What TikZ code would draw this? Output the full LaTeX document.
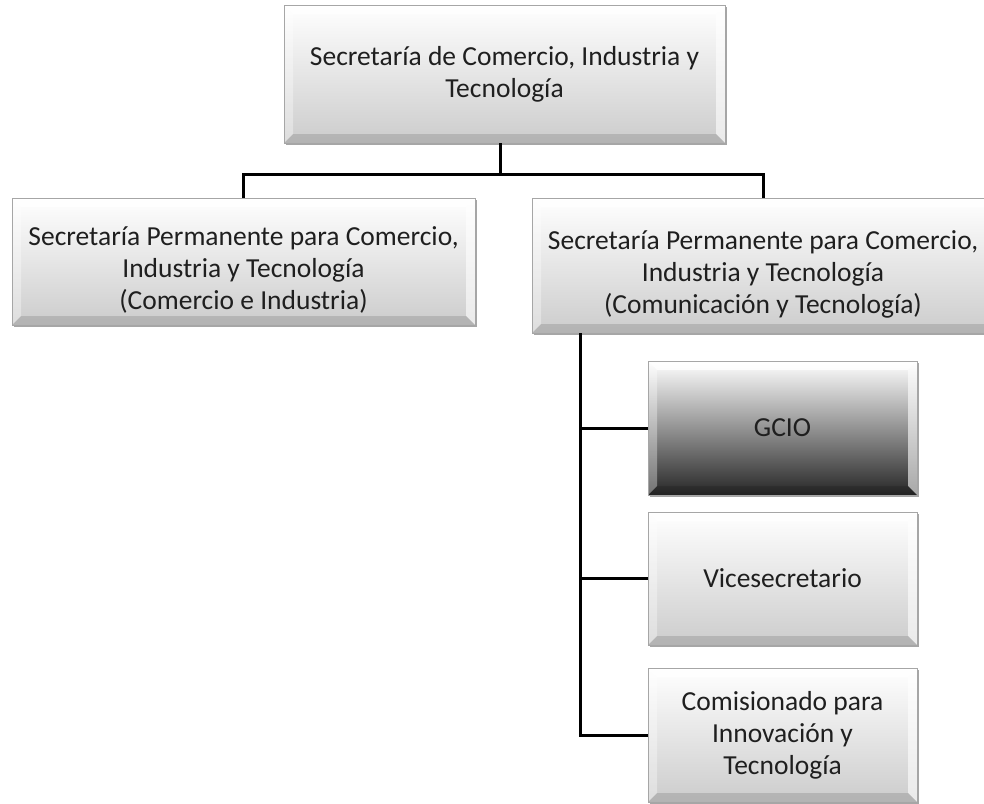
\documentclass[tikz,border=0pt]{standalone}
\usepackage{fontspec}
\setmainfont{Carlito}
\usetikzlibrary{shadows}
% invisible strut that lowers a text block inside its box
\newcommand\lowerstrut{\rule{0pt}{36pt}}
\begin{document}
\begin{tikzpicture}[x=1pt,y=-1pt,
  bevel/.style={
    path picture={
      \def\bv{9pt}
      \coordinate (pp-nw) at (path picture bounding box.north west);
      \coordinate (pp-ne) at (path picture bounding box.north east);
      \coordinate (pp-sw) at (path picture bounding box.south west);
      \coordinate (pp-se) at (path picture bounding box.south east);
      % top facet
      \fill[white,opacity=.8] (pp-nw) -- (pp-ne) -- ([xshift=-\bv,yshift=-\bv]pp-ne) -- ([xshift=\bv,yshift=-\bv]pp-nw) -- cycle;
      % left facet
      \fill[white,opacity=.35] (pp-nw) -- ([xshift=\bv,yshift=-\bv]pp-nw) -- ([xshift=\bv,yshift=\bv]pp-sw) -- (pp-sw) -- cycle;
      % right facet
      \fill[white,opacity=.6] (pp-ne) -- (pp-se) -- ([xshift=-\bv,yshift=\bv]pp-se) -- ([xshift=-\bv,yshift=-\bv]pp-ne) -- cycle;
      % bottom facet
      \fill[black,opacity=.12] (pp-sw) -- (pp-se) -- ([xshift=-\bv,yshift=\bv]pp-se) -- ([xshift=\bv,yshift=\bv]pp-sw) -- cycle;
    }},
  orgbox/.style={rectangle, draw=black!35, line width=0.8pt, inner sep=0pt,
    align=center, font=\fontsize{27.5}{32}\selectfont, text=black!88,
    top color=white, bottom color=black!20, bevel,
    drop shadow={shadow xshift=1.5pt, shadow yshift=-2pt, opacity=.35, fill=black}},
  darkbox/.style={orgbox, top color=white, middle color=black!40, bottom color=black!85},
  conn/.style={draw=black, line width=3pt}
]
\useasboundingbox (0,0) rectangle (984,803);
\clip (0,0) rectangle (984,803);

% boxes
\node[orgbox, minimum width=441pt, minimum height=138pt] (top) at (504.5,74)
  {Secretaría de Comercio, Industria y\\Tecnología};
\node[orgbox, minimum width=463pt, minimum height=127pt] (left) at (243.5,261.5)
  {\lowerstrut Secretaría Permanente para Comercio,\\Industria y Tecnología\\(Comercio e Industria)};
\node[orgbox, minimum width=462pt, minimum height=135pt] (right) at (763,265.5)
  {\lowerstrut Secretaría Permanente para Comercio,\\Industria y Tecnología\\(Comunicación y Tecnología)};
\node[darkbox, minimum width=269pt, minimum height=134pt] (gcio) at (782.5,428) {GCIO};
\node[orgbox, minimum width=269pt, minimum height=133pt] (vice) at (782.5,578.5) {Vicesecretario};
\node[orgbox, minimum width=269pt, minimum height=134pt] (comm) at (782.5,735)
  {Comisionado para\\Innovación y\\Tecnología};

% connectors
\coordinate (bus) at (0,174);
\coordinate (spine) at (580,0);
\draw[conn] (top.south -| 500,0) -- (bus -| 500,0);
\draw[conn] (left.north) -- (left.north |- bus) -| (right.north);
\draw[conn] (spine |- right.south) -- (spine |- comm.west) -- (comm.west);
\draw[conn] (spine |- gcio.west) -- (gcio.west);
\draw[conn] (spine |- vice.west) -- (vice.west);
\end{tikzpicture}
\end{document}
